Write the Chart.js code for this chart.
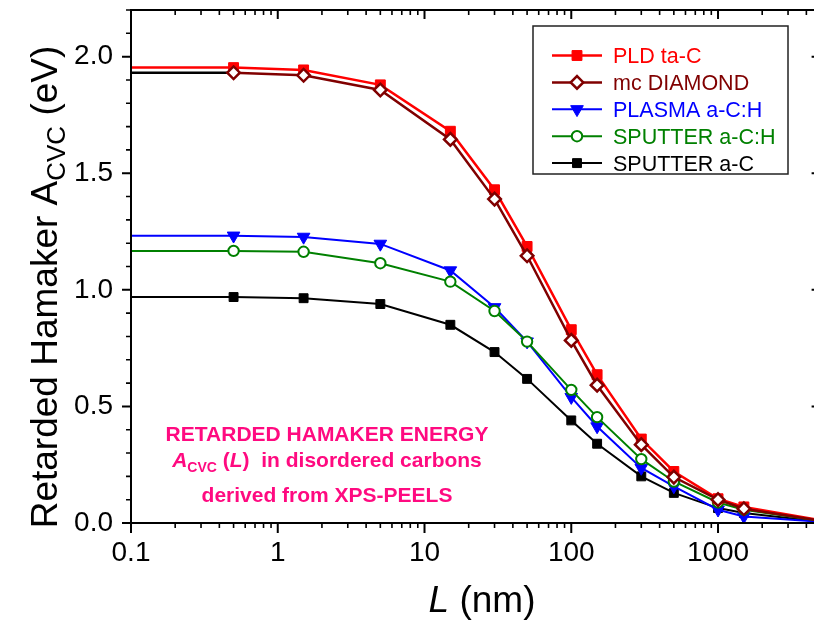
<!DOCTYPE html>
<html>
<head>
<meta charset="utf-8">
<script src="https://cdn.jsdelivr.net/npm/chart.js"></script>
<style>
  html, body { margin: 0; padding: 0; background: #fff; overflow: hidden; }
  #wrap { width: 830px; height: 625px; }
</style>
</head>
<body>
<div id="wrap"><canvas id="hamaker" width="830" height="625"></canvas></div>
<script>
// separation L in nm (first/last points carry no marker)
const nm = [0.1, 0.5, 1.5, 5, 15, 30, 50, 100, 150, 300, 500, 1000, 1500, 5000];

// retarded Hamaker constant in eV
const pldTaC      = [1.953, 1.953, 1.943, 1.879, 1.680, 1.429, 1.186, 0.829, 0.636, 0.360, 0.221, 0.104, 0.069, 0.012];
const mcDiamond   = [1.931, 1.931, 1.920, 1.857, 1.645, 1.389, 1.146, 0.783, 0.591, 0.336, 0.197, 0.100, 0.061, 0.010];
const plasmaACH   = [1.232, 1.232, 1.227, 1.197, 1.083, 0.925, 0.778, 0.540, 0.414, 0.236, 0.157, 0.057, 0.028, 0.005];
const sputterACH  = [1.167, 1.167, 1.163, 1.114, 1.035, 0.909, 0.778, 0.571, 0.454, 0.274, 0.178, 0.088, 0.057, 0.008];
const sputterAC   = [0.969, 0.969, 0.964, 0.939, 0.850, 0.733, 0.618, 0.440, 0.340, 0.200, 0.129, 0.064, 0.043, 0.005];

const xTickValues = [0.1, 1, 10, 100, 1000];
const xTickLabels = ['0.1', '1', '10', '100', '1000'];
const yTickValues = [0, 0.5, 1.0, 1.5, 2.0];

const FONT = "'Liberation Sans', Arial, sans-serif";
const PINK = '#ff0a80';

function pts(vals) {
  return vals.map((v, i) => ({ x: nm[i], y: v }));
}

function series(label, vals, color, style, radius, fill, bw, lw, order, extra) {
  return Object.assign({
    label: label,
    data: pts(vals),
    borderColor: color,
    backgroundColor: fill,
    borderWidth: lw,
    pointStyle: style,
    pointRadius: c => (c.dataIndex === 0 || c.dataIndex === nm.length - 1) ? 0 : radius,
    pointBorderColor: color,
    pointBackgroundColor: fill,
    pointBorderWidth: bw,
    pointRotation: 0,
    tension: 0,
    order: order
  }, extra || {});
}

const datasets = [
  series('PLD ta-C', pldTaC, '#ff0000', 'rect', 7, '#ff0000', 1, 2.5, 1),
  series('mc DIAMOND', mcDiamond, '#800000', 'rectRot', 6.3, '#ffffff', 2.5, 2.5, 0, {
    // the lead-in segment of this curve is drawn in black
    segment: { borderColor: c => c.p0DataIndex === 0 ? '#000000' : undefined }
  }),
  series('PLASMA a-C:H', plasmaACH, '#0000ff', 'triangle', 7.3, '#0000ff', 1, 2, 3, { pointRotation: 180 }),
  series('SPUTTER a-C:H', sputterACH, '#008000', 'circle', 5.2, '#ffffff', 2, 2, 2),
  series('SPUTTER a-C', sputterAC, '#000000', 'rect', 6.3, '#000000', 1, 2, 4)
];

// draws one legend/marker glyph the same way the line elements do
function marker(ctx, ds, x, y) {
  const r = ds.pointRadius({ dataIndex: 1 });
  ctx.save();
  ctx.fillStyle = ds.pointBackgroundColor;
  ctx.strokeStyle = ds.pointBorderColor;
  ctx.lineWidth = ds.pointBorderWidth;
  Chart.helpers.drawPoint(ctx, {
    pointStyle: ds.pointStyle, radius: r, rotation: ds.pointRotation, borderWidth: ds.pointBorderWidth
  }, x, y);
  ctx.restore();
}

// writes runs of [text, font, dy, color] starting at x, returns width
function runs(ctx, parts, x, y, measureOnly) {
  let w = 0;
  parts.forEach(p => {
    ctx.font = p[1];
    if (!measureOnly) {
      ctx.fillStyle = p[3] || '#000';
      ctx.fillText(p[0], x + w, y + (p[2] || 0));
    }
    w += ctx.measureText(p[0]).width;
  });
  return w;
}

function centred(ctx, parts, cx, y) {
  const w = runs(ctx, parts, 0, 0, true);
  runs(ctx, parts, cx - w / 2, y);
}

const decorations = {
  id: 'decorations',
  afterDraw(chart) {
    const ctx = chart.ctx;
    const a = chart.chartArea;
    const xs = chart.scales.x, ys = chart.scales.y;
    ctx.save();
    ctx.strokeStyle = '#000';
    ctx.lineCap = 'butt';

    // frame
    ctx.lineWidth = 2;
    ctx.strokeRect(a.left, a.top, a.right - a.left, a.bottom - a.top);

    // y ticks: outward on the left, inward on the right
    const yMinor = [];
    for (let k = 1; k <= 22; k++) if (k % 5 !== 0) yMinor.push(k / 10);
    ctx.beginPath();
    yTickValues.forEach(v => {
      const p = ys.getPixelForValue(v);
      ctx.moveTo(a.left - 9, p); ctx.lineTo(a.left, p);
      ctx.moveTo(a.right - 9, p); ctx.lineTo(a.right, p);
    });
    ctx.stroke();
    ctx.lineWidth = 1.6;
    ctx.beginPath();
    yMinor.forEach(v => {
      const p = ys.getPixelForValue(v);
      ctx.moveTo(a.left - 5, p); ctx.lineTo(a.left, p);
      ctx.moveTo(a.right - 5, p); ctx.lineTo(a.right, p);
    });
    ctx.stroke();

    // x ticks: outward at the bottom, inward on top
    ctx.lineWidth = 2;
    ctx.beginPath();
    xTickValues.forEach(v => {
      const p = xs.getPixelForValue(v);
      ctx.moveTo(p, a.bottom); ctx.lineTo(p, a.bottom + 10);
      ctx.moveTo(p, a.top); ctx.lineTo(p, a.top + 9);
    });
    ctx.stroke();
    ctx.lineWidth = 1.6;
    ctx.beginPath();
    xTickValues.forEach(d => {
      for (let m = 2; m <= 9; m++) {
        const v = d * m;
        if (v > 5000) break;
        const p = xs.getPixelForValue(v);
        ctx.moveTo(p, a.bottom); ctx.lineTo(p, a.bottom + 5);
        ctx.moveTo(p, a.top); ctx.lineTo(p, a.top + 5);
      }
    });
    ctx.stroke();

    // axis titles
    ctx.textBaseline = 'alphabetic';
    centred(ctx, [
      ['L', 'italic 37px ' + FONT],
      [' (nm)', '37px ' + FONT]
    ], 482, 612);

    ctx.save();
    ctx.translate(57, 287);
    ctx.rotate(-Math.PI / 2);
    centred(ctx, [
      ['Retarded Hamaker A', '37px ' + FONT],
      ['CVC', '26px ' + FONT, 8],
      [' (eV)', '37px ' + FONT]
    ], 0, 0);
    ctx.restore();

    // note inside the plot
    const b = 'bold 21px ' + FONT;
    centred(ctx, [['RETARDED HAMAKER ENERGY', b, 0, PINK]], 327, 441);
    centred(ctx, [
      ['A', 'italic bold 21px ' + FONT, 0, PINK],
      ['CVC', 'bold 14px ' + FONT, 5, PINK],
      [' (', b, 0, PINK],
      ['L', 'italic bold 21px ' + FONT, 0, PINK],
      [')  in disordered carbons', b, 0, PINK]
    ], 327, 467);
    centred(ctx, [['derived from XPS-PEELS', b, 0, PINK]], 327, 502);

    // legend box
    ctx.fillStyle = '#fff';
    ctx.fillRect(533, 26, 255, 148);
    ctx.strokeStyle = '#222';
    ctx.lineWidth = 1.5;
    ctx.strokeRect(533, 26, 255, 148);
    datasets.forEach((ds, i) => {
      const y = 55.5 + i * 26.9;
      ctx.strokeStyle = ds.borderColor;
      ctx.lineWidth = ds.borderWidth;
      ctx.beginPath();
      ctx.moveTo(552, y); ctx.lineTo(602, y);
      ctx.stroke();
      marker(ctx, ds, 577, y);
      ctx.font = '21.5px ' + FONT;
      ctx.fillStyle = ds.borderColor;
      ctx.textAlign = 'left';
      ctx.fillText(ds.label, 613, y + 7.5);
    });
    ctx.restore();
  }
};

new Chart(document.getElementById('hamaker'), {
  type: 'line',
  data: { datasets: datasets },
  plugins: [decorations],
  options: {
    responsive: false,
    animation: false,
    layout: { padding: { top: 10, right: 9.4, left: 0, bottom: 0 } },
    plugins: { legend: { display: false }, tooltip: { enabled: false } },
    scales: {
      x: {
        type: 'logarithmic',
        min: 0.1,
        max: 5000,
        grid: { display: false, drawTicks: false },
        border: { display: false },
        ticks: {
          autoSkip: false,
          maxRotation: 0,
          padding: 13,
          color: '#000',
          font: { family: FONT, size: 28 },
          callback: v => {
            const i = xTickValues.findIndex(t => Math.abs(t - v) / t < 1e-6);
            return i >= 0 ? xTickLabels[i] : '';
          }
        },
        afterFit: s => { s.height = 102; s.paddingLeft = 0; s.paddingRight = 0; }
      },
      y: {
        min: 0,
        max: 2.2,
        grid: { display: false, drawTicks: false },
        border: { display: false },
        ticks: {
          stepSize: 0.5,
          includeBounds: false,
          padding: 18,
          color: '#000',
          font: { family: FONT, size: 28 },
          callback: v => v.toFixed(1)
        },
        afterFit: s => { s.width = 131; s.paddingTop = 0; s.paddingBottom = 0; }
      }
    }
  }
});
</script>
</body>
</html>
